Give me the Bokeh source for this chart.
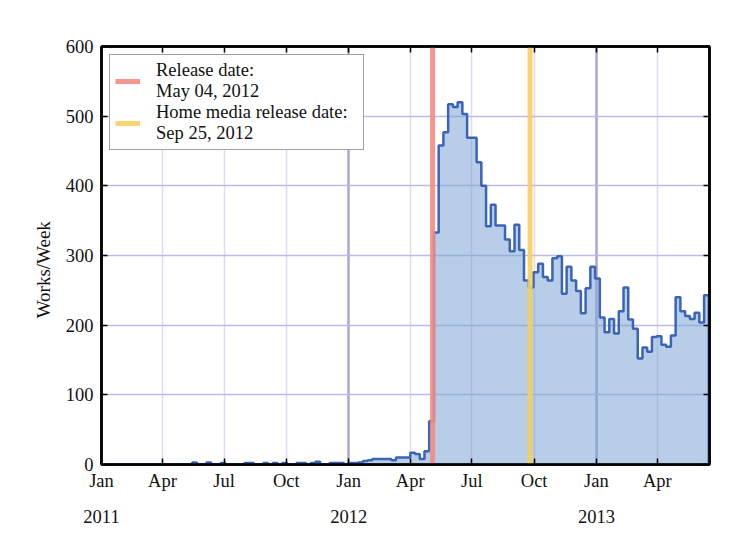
import pandas as pd
from bokeh.plotting import figure
from bokeh.models import Range1d, FixedTicker, LinearAxis, Grid, Legend, LegendItem
from bokeh.embed import file_html
from bokeh.resources import INLINE

# ---- data: weekly counts of works, weeks starting on Sundays from 2011-01-02 ----
works_2011 = [0, 0, 0, 0, 0, 0, 0, 0, 0, 0, 0, 0, 0, 0, 0, 0, 0, 0, 0, 3,
              0, 0, 3, 0, 0, 2, 0, 0, 0, 0, 2, 2, 0, 0, 2, 0, 2, 0, 2, 0,
              0, 2, 2, 0, 2, 4, 0, 0, 2, 2, 2, 0]
works_2012_pre = [2, 2, 3, 5, 6, 8, 8, 8, 8, 6, 10, 10, 10, 17, 15, 8, 19, 62]
works_post = [333, 458, 477, 517, 513, 520, 503, 469, 469, 434, 400, 342, 373, 343, 343,
              323, 306, 344, 308, 264, 254, 276, 288, 269, 264, 296, 299, 245, 284, 264,
              249, 217, 253, 284, 267, 211, 190, 209, 188, 220, 254, 208, 195, 152, 168,
              162, 183, 184, 172, 169, 185, 240, 220, 213, 209, 218, 204, 243]
works_end = [0]
works = works_2011 + works_2012_pre + works_post + works_end
first_week = "2011-01-02"

release_label = "Release date:\nMay 04, 2012"
release_date = "2012-05-04"
home_label = "Home media release date:\nSep 25, 2012"
home_date = "2012-09-25"

y_ticks = [0, 100, 200, 300, 400, 500, 600]
years = ["2011", "2012", "2013"]

weeks = pd.date_range(first_week, periods=len(works), freq="7D")

FONT = "Liberation Serif"
FS = "18.5px"

p = figure(width=718, height=534, output_backend="svg", toolbar_location=None,
           x_range=Range1d(pd.Timestamp("2011-01-01"), pd.Timestamp("2013-06-17")),
           y_range=Range1d(0, 600), x_axis_type=None, y_axis_type=None,
           min_border_left=101, min_border_right=9, min_border_top=46, min_border_bottom=70)
p.outline_line_color = "black"
p.outline_line_width = 2.5
p.background_fill_color = "white"
p.border_fill_color = "white"

def ms(t):
    return pd.Timestamp(t).value / 1e6

quarters = pd.date_range("2011-01-01", "2013-04-01", freq="QS")
q_ms = [ms(t) for t in quarters]
q_labels = {ms(t): t.strftime("%b") for t in quarters}
year_ms = [ms(y + "-01-01") for y in years]
year_labels = {ms(y + "-01-01"): y for y in years}

def style_axis(ax):
    ax.axis_line_color = "black"
    ax.axis_line_width = 2.5
    ax.major_tick_in = 6
    ax.major_tick_out = 0
    ax.major_tick_line_color = "black"
    ax.major_tick_line_width = 1.5
    ax.minor_tick_line_color = None
    ax.major_label_text_font = FONT
    ax.major_label_text_font_size = FS
    ax.major_label_text_color = "#111111"

xb = LinearAxis(ticker=FixedTicker(ticks=q_ms), major_label_overrides=q_labels)
style_axis(xb)
xb.major_label_standoff = 6
p.add_layout(xb, "below")

xy = LinearAxis(ticker=FixedTicker(ticks=year_ms), major_label_overrides=year_labels)
style_axis(xy)
xy.axis_line_color = None
xy.major_tick_line_color = None
xy.major_label_standoff = 16
p.add_layout(xy, "below")

xt = LinearAxis(ticker=FixedTicker(ticks=q_ms), major_label_overrides={t: "" for t in q_ms})
style_axis(xt)
xt.major_label_text_font_size = "1px"
xt.major_label_standoff = 0
p.add_layout(xt, "above")

yl = LinearAxis(ticker=FixedTicker(ticks=y_ticks), axis_label="Works/Week" + "\u00a0" * 6)
style_axis(yl)
yl.major_label_standoff = 8
yl.axis_label_text_font = FONT
yl.axis_label_text_font_size = "19px"
yl.axis_label_text_font_style = "normal"
yl.axis_label_text_color = "#111111"
yl.axis_label_standoff = 9
p.add_layout(yl, "left")

yr = LinearAxis(ticker=FixedTicker(ticks=y_ticks), major_label_overrides={t: "" for t in y_ticks})
style_axis(yr)
yr.major_label_text_font_size = "1px"
yr.major_label_standoff = 0
p.add_layout(yr, "right")

# grids
p.add_layout(Grid(dimension=0, ticker=FixedTicker(ticks=q_ms),
                  grid_line_color="#dcdbf0", grid_line_width=1.5))
p.add_layout(Grid(dimension=0, ticker=FixedTicker(ticks=year_ms[1:]),
                  grid_line_color="#a9a7d8", grid_line_width=2.5))
p.add_layout(Grid(dimension=1, ticker=FixedTicker(ticks=y_ticks[1:-1]),
                  grid_line_color="#bdbbe3", grid_line_width=1.5))

# data
p.varea_step(x=weeks, y1=[0] * len(works), y2=works, step_mode="after",
             fill_color="#7ea4d5", fill_alpha=0.55)
p.step(x=weeks, y=works, mode="after", line_color="#3a64b6", line_width=2.5)

r_rel = p.segment(x0=[pd.Timestamp(release_date)], y0=[0], x1=[pd.Timestamp(release_date)], y1=[600],
                  line_color="#f28b82", line_width=5, line_alpha=0.9)
r_home = p.segment(x0=[pd.Timestamp(home_date)], y0=[0], x1=[pd.Timestamp(home_date)], y1=[600],
                   line_color="#f5cf5e", line_width=5, line_alpha=0.9)

legend = Legend(items=[LegendItem(label=release_label, renderers=[r_rel]),
                       LegendItem(label=home_label, renderers=[r_home])],
                location="top_left", margin=8, padding=5, spacing=0,
                label_text_font=FONT, label_text_font_size=FS, label_text_color="#111111",
                label_text_line_height=1.1, label_width=202,
                glyph_width=25, label_standoff=16,
                border_line_color="#444444", border_line_width=1,
                background_fill_color="white", background_fill_alpha=1)
p.add_layout(legend)

open("out.html", "w").write(file_html(p, INLINE))
